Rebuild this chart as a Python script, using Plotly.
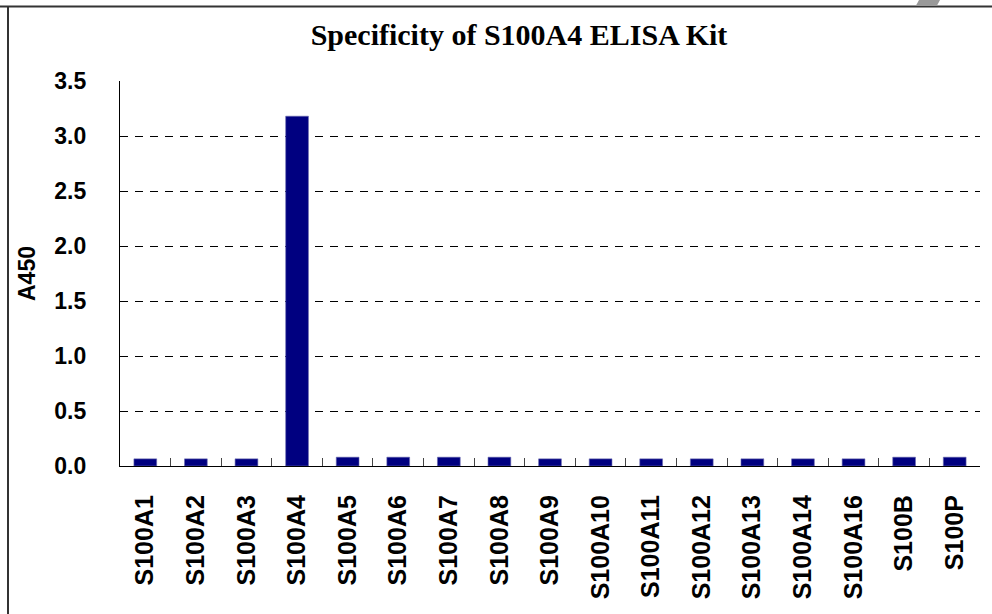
import plotly.graph_objects as go

categories = ["S100A1", "S100A2", "S100A3", "S100A4", "S100A5", "S100A6", "S100A7",
              "S100A8", "S100A9", "S100A10", "S100A11", "S100A12", "S100A13",
              "S100A14", "S100A16", "S100B", "S100P"]
a450 = [0.065, 0.065, 0.065, 3.18, 0.08, 0.08, 0.08, 0.08, 0.065, 0.065, 0.065,
        0.065, 0.065, 0.065, 0.065, 0.08, 0.08]
y_ticks = [0.0, 0.5, 1.0, 1.5, 2.0, 2.5, 3.0, 3.5]
y_tick_text = ["0.0", "0.5", "1.0", "1.5", "2.0", "2.5", "3.0", "3.5"]

W, H = 992, 614
L, R, T, B = 120, 12, 81, 148
PW, PH = W - L - R, H - T - B

def px(x):
    return (x - L) / PW

def py(y):
    return (H - B - y) / PH

fig = go.Figure(go.Bar(
    x=categories, y=a450,
    marker=dict(color="#000080", line=dict(color="#6a6ab0", width=0.6)),
))

fig.update_layout(
    width=W, height=H,
    margin=dict(l=L, r=R, t=T, b=B, autoexpand=False),
    paper_bgcolor="white", plot_bgcolor="white",
    bargap=0.55,
    showlegend=False,
    title=dict(text="<b>Specificity of S100A4 ELISA Kit</b>",
               font=dict(family="Liberation Serif", size=30, color="black"),
               x=519 / W, xanchor="center", y=1 - 34 / H, yanchor="middle"),
    shapes=[
        dict(type="line", xref="paper", yref="paper", x0=px(8), x1=px(8), y0=py(6), y1=py(H + 5),
             line=dict(color="#333333", width=2), layer="above"),
        dict(type="rect", xref="paper", yref="paper", x0=px(0), x1=px(W), y0=py(7.5), y1=py(5.5),
             fillcolor="#333333", line=dict(width=0), layer="above"),
        dict(type="path", xref="paper", yref="paper",
             path=f"M {px(916)} {py(5.5)} L {px(937)} {py(5.5)} L {px(940)} {py(0)} L {px(919)} {py(0)} Z",
             fillcolor="#999999", line=dict(width=0), layer="above"),
    ],
)

fig.update_xaxes(
    type="category",
    tickvals=categories, ticktext=[f"<b>{c}</b>" for c in categories],
    showline=True, linecolor="black", linewidth=1.2, mirror=False,
    ticks="inside", tickson="boundaries", ticklen=8, tickcolor="#444444", tickwidth=1.2,
    tickangle=-90,
    tickfont=dict(family="Liberation Sans", size=25, color="black"),
    ticklabelstandoff=18,
    showgrid=False,
)
fig.update_yaxes(
    range=[0, 3.5],
    tickvals=y_ticks, ticktext=[f"<b>{t}</b>" for t in y_tick_text],
    tickfont=dict(family="Liberation Sans", size=23, color="black"),
    ticks="", ticklabelstandoff=28,
    showline=True, linecolor="black", linewidth=1.2,
    showgrid=True, gridcolor="black", gridwidth=1, griddash="8px,7px",
    zeroline=False,
    title=dict(text="<b>A450</b>", font=dict(family="Liberation Sans", size=23, color="black"),
               standoff=12),
)

fig.write_html("out.html", config={"displayModeBar": False},
               post_script="document.body.style.margin='0px';")
